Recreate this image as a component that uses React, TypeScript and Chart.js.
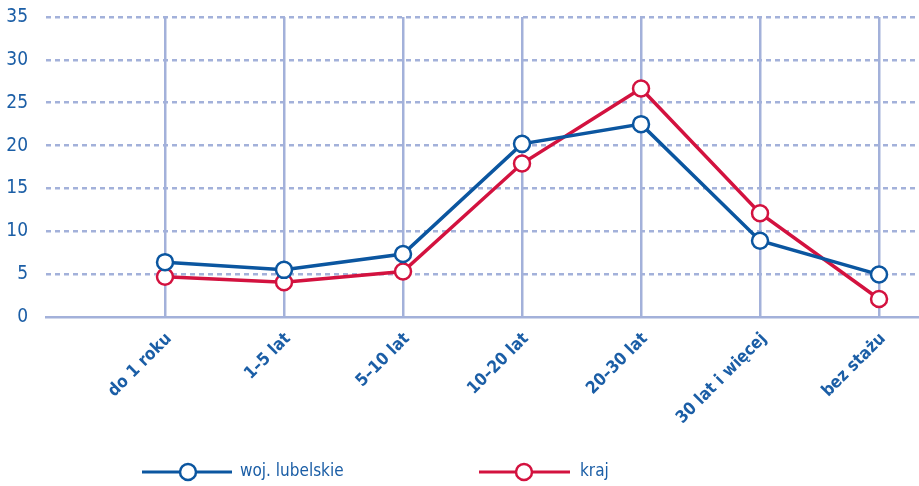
import React, { useEffect, useRef } from "react";
import { Chart, registerables } from "chart.js";

Chart.register(...registerables);

const categories = ["do 1 roku", "1–5 lat", "5–10 lat", "10–20 lat", "20–30 lat", "30 lat i więcej", "bez stażu"];
const lubelskie = [6.4, 5.5, 7.35, 20.2, 22.5, 8.9, 4.95];
const kraj = [4.7, 4.05, 5.3, 17.9, 26.65, 12.1, 2.1];
const yTicks = [0, 5, 10, 15, 20, 25, 30, 35];
const seriesNames = ["woj. lubelskie", "kraj"];

const BLUE = "#0b56a0";
const RED = "#d3123f";
const GRID = "#a3b1da";
const TEXT = "#1b5ea6";
const FONT = '"Liberation Sans Narrow", "DejaVu Sans Condensed", "Arial Narrow", sans-serif';

const legendPlugin = {
  id: "customLegend",
  afterDraw(chart: any) {
    const ctx = chart.ctx;
    const items = [
      { name: seriesNames[0], color: BLUE, x0: 142, x1: 232, cx: 188, tx: 240 },
      { name: seriesNames[1], color: RED, x0: 479, x1: 570, cx: 524, tx: 580 },
    ];
    const y = 472;
    ctx.save();
    for (const it of items) {
      ctx.strokeStyle = it.color;
      ctx.lineWidth = 3;
      ctx.beginPath();
      ctx.moveTo(it.x0, y);
      ctx.lineTo(it.x1, y);
      ctx.stroke();
      ctx.beginPath();
      ctx.arc(it.cx, y, 8, 0, Math.PI * 2);
      ctx.fillStyle = "#ffffff";
      ctx.fill();
      ctx.lineWidth = 2.5;
      ctx.stroke();
      ctx.fillStyle = TEXT;
      ctx.font = `17px ${FONT}`;
      ctx.textBaseline = "middle";
      ctx.textAlign = "left";
      ctx.fillText(it.name, it.tx, y);
    }
    ctx.restore();
  },
};

export default function App() {
  const ref = useRef<HTMLCanvasElement | null>(null);
  useEffect(() => {
    document.body.style.margin = "0";
    const canvas = ref.current;
    if (!canvas) return;
    const mk = (vals: number[]) => vals.map((v, i) => ({ x: i + 1, y: v }));
    const ds = (label: string, vals: number[], color: string) => ({
      label,
      data: mk(vals),
      borderColor: color,
      backgroundColor: "#ffffff",
      borderWidth: 3.5,
      pointRadius: 8,
      pointBorderWidth: 2.5,
      pointBackgroundColor: "#ffffff",
      pointBorderColor: color,
      tension: 0,
    });
    const chart = new Chart(canvas, {
      type: "line",
      data: {
        datasets: [ds(seriesNames[0], lubelskie, BLUE), ds(seriesNames[1], kraj, RED)],
      },
      options: {
        animation: false,
        responsive: false,
        maintainAspectRatio: false,
        layout: { padding: { top: 17, right: 0, left: 0, bottom: 0 } },
        plugins: { legend: { display: false }, tooltip: { enabled: false } },
        scales: {
          x: {
            type: "linear",
            min: 0,
            max: 7.34,
            afterBuildTicks: (axis: any) => {
              axis.ticks = categories.map((_, i) => ({ value: i + 1 }));
            },
            afterFit: (scale: any) => {
              scale.height = 169;
              scale.paddingLeft = 0;
              scale.paddingRight = 0;
            },
            grid: { color: GRID, lineWidth: 2.5, drawTicks: false },
            border: { display: true, color: GRID, width: 2.5 },
            ticks: {
              autoSkip: false,
              minRotation: 45,
              maxRotation: 45,
              padding: 12,
              labelOffset: 4,
              color: TEXT,
              font: { family: FONT, size: 17, weight: "bold" },
              callback: (v: any) => categories[Math.round(v) - 1] ?? "",
            },
          },
          y: {
            min: 0,
            max: 35,
            afterBuildTicks: (axis: any) => {
              axis.ticks = yTicks.map((v) => ({ value: v }));
            },
            afterFit: (scale: any) => {
              scale.width = 46;
              scale.paddingTop = 0;
              scale.paddingBottom = 0;
            },
            grid: {
              color: (c: any) => (c.tick && c.tick.value === 0 ? "rgba(0,0,0,0)" : GRID),
              lineWidth: 2.5,
              drawTicks: false,
            },
            border: { display: false, dash: [5, 4] },
            ticks: {
              padding: 18,
              color: TEXT,
              font: { family: FONT, size: 19 },
            },
          },
        },
      },
      plugins: [legendPlugin],
    } as any);
    return () => chart.destroy();
  }, []);
  return (
    <div style={{ width: 919, height: 486, position: "relative", overflow: "hidden" }}>
      <canvas ref={ref} width={930} height={486} style={{ display: "block" }} />
    </div>
  );
}
